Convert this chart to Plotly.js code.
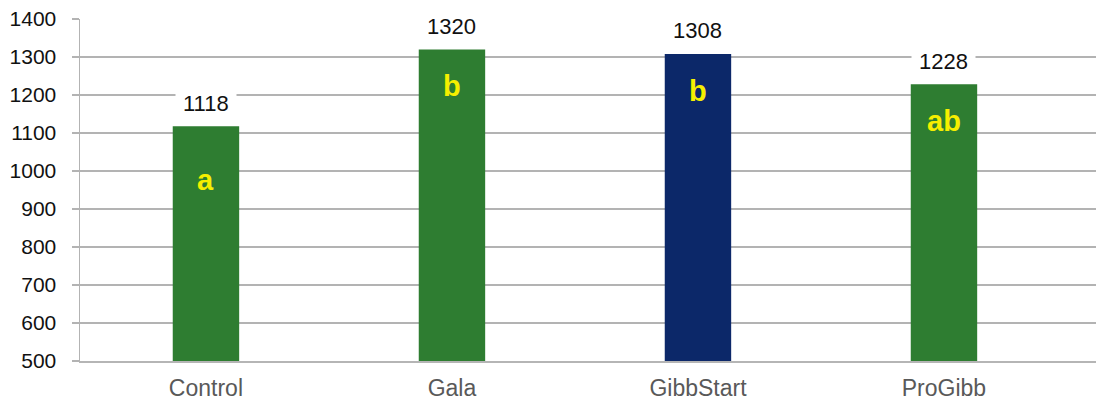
<!DOCTYPE html>
<html>
<head>
<meta charset="utf-8">
<script src="https://cdn.plot.ly/plotly-3.0.1.min.js"></script>
<style>html,body{margin:0;padding:0;background:#fff;}#chart{width:1099px;height:400px;}</style>
</head>
<body>
<div id="chart"></div>
<script>
// Data
const categories = ["Control", "Gala", "GibbStart", "ProGibb"];
const values = [1118, 1320, 1308, 1228];
const groupLetters = ["a", "b", "b", "ab"];
const yTickValues = [500, 600, 700, 800, 900, 1000, 1100, 1200, 1300, 1400];

// Styles
const barColors = ["#2e7d31", "#2e7d31", "#0c2869", "#2e7d31"];
const letterShift = [-54, -37, -37, -37];

const trace = {
  type: "bar",
  x: categories,
  y: values,
  width: 0.27,
  marker: {color: barColors},
  hoverinfo: "skip"
};

const annotations = [];
categories.forEach((c, i) => {
  annotations.push({
    x: c, y: values[i], xref: "x", yref: "y",
    text: String(values[i]), showarrow: false,
    yanchor: "middle", yshift: 23,
    bgcolor: "#ffffff", borderpad: 7,
    font: {family: "Liberation Sans, Arial, sans-serif", size: 22, color: "#111111"}
  });
  annotations.push({
    x: c, y: values[i], xref: "x", yref: "y",
    text: "<b>" + groupLetters[i] + "</b>", showarrow: false,
    yanchor: "middle", yshift: letterShift[i],
    font: {family: "Liberation Sans, Arial, sans-serif", size: 29, color: "#f5ef00"}
  });
});

const layout = {
  width: 1099, height: 400,
  margin: {l: 80, r: 3, t: 19, b: 39},
  paper_bgcolor: "#ffffff", plot_bgcolor: "#ffffff",
  showlegend: false,
  xaxis: {
    type: "category",
    range: [-0.512, 3.618],
    showgrid: false,
    showline: true, linecolor: "#b5b5b5", linewidth: 1.5,
    ticks: "",
    ticklabelstandoff: 6,
    tickfont: {family: "Liberation Sans, Arial, sans-serif", size: 23, color: "#595959"},
    fixedrange: true
  },
  yaxis: {
    range: [500, 1400],
    tickvals: yTickValues,
    showgrid: true, gridcolor: "#b3b3b3", gridwidth: 1.5,
    showline: true, linecolor: "#b3b3b3", linewidth: 1.5,
    ticks: "outside", ticklen: 7, tickcolor: "#b3b3b3", tickwidth: 1.5,
    ticklabelstandoff: 11,
    zeroline: false,
    tickfont: {family: "Liberation Sans, Arial, sans-serif", size: 21, color: "#111111"},
    fixedrange: true
  },
  annotations: annotations
};

Plotly.newPlot("chart", [trace], layout, {displayModeBar: false, staticPlot: true});
</script>
</body>
</html>
